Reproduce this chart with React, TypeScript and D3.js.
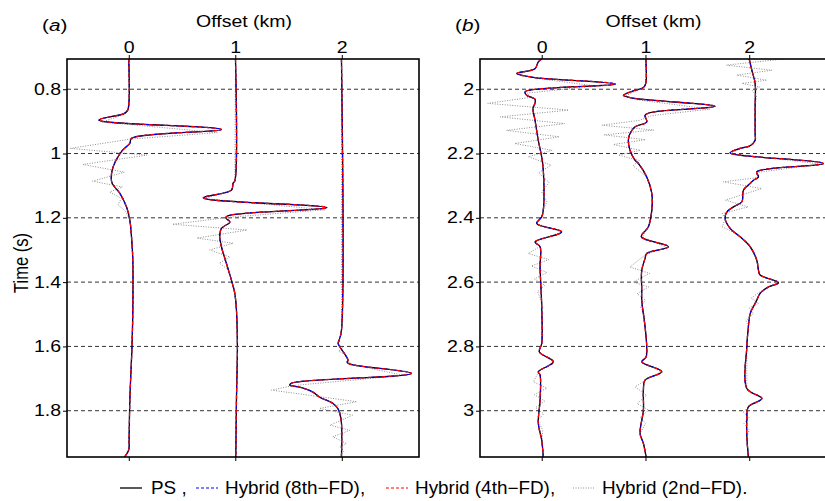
import React, { useEffect, useRef } from "react";
import * as d3 from "d3";

// each trace point: [time (s), deflection from its offset (km units)]
type Pt = [number, number];

const offsets = [0, 1, 2];
const timeTicksA = [0.8, 1, 1.2, 1.4, 1.6, 1.8];
const timeTicksB = [2, 2.2, 2.4, 2.6, 2.8, 3];
const timeRangeA: [number, number] = [0.706, 1.944];
const timeRangeB: [number, number] = [1.906, 3.144];
const offsetRangeA: [number, number] = [-0.58, 2.725];
const offsetRangeB: [number, number] = [-0.595, 2.74];
const legendLabels = ["PS ,", "Hybrid (8th\u2212FD),", "Hybrid (4th\u2212FD),", "Hybrid (2nd\u2212FD)."];

// panel (a), PS reference
const psA0: Pt[] = [[0.706, 0], [0.834, 0.003], [0.865, -0.01], [0.875, -0.04], [0.896, -0.28], [0.925, 0.87], [0.953, 0.025], [0.968, 0.01], [0.99, -0.06], [1.015, -0.11], [1.036, -0.14], [1.058, -0.16], [1.089, -0.16], [1.105, -0.13], [1.123, -0.085], [1.167, -0.02], [1.207, 0.01], [1.27, 0.028], [1.332, 0.038], [1.487, 0.038], [1.601, 0.03], [1.767, 0.01], [1.891, 0.003], [1.922, 0], [1.944, -0.04]];
const psA1: Pt[] = [[0.706, 0.002], [1.085, -0.004], [1.092, -0.02], [1.114, -0.036], [1.138, -0.3], [1.168, 0.86], [1.192, -0.05], [1.2, -0.09], [1.213, -0.05], [1.233, -0.13], [1.259, -0.146], [1.29, -0.13], [1.342, -0.083], [1.394, -0.036], [1.434, -0.005], [1.487, 0.011], [1.601, 0.02], [1.767, 0.011], [1.944, 0.005]];
const psA2: Pt[] = [[0.706, -0.003], [1.55, -0.003], [1.581, -0.025], [1.59, -0.035], [1.601, -0.019], [1.625, 0.03], [1.643, 0.059], [1.649, 0.05], [1.655, 0.075], [1.684, 0.654], [1.714, -0.47], [1.72, -0.488], [1.727, -0.394], [1.742, -0.272], [1.758, -0.207], [1.777, -0.085], [1.793, -0.038], [1.808, -0.019], [1.839, -0.003], [1.944, -0.003]];

// panel (a), 2nd-order FD hybrid (dispersive)
const fd2A0: Pt[] = [[0.706, 0], [0.834, 0.003], [0.865, -0.01], [0.878, -0.04], [0.902, -0.25], [0.935, 0.83], [0.955, 0.02], [0.984, -0.55], [1.005, 0.17], [1.034, -0.43], [1.058, -0.04], [1.086, -0.34], [1.104, -0.06], [1.12, -0.18], [1.139, -0.07], [1.16, -0.1], [1.18, -0.03], [1.207, 0.01], [1.27, 0.028], [1.332, 0.038], [1.487, 0.038], [1.601, 0.03], [1.767, 0.01], [1.891, 0.003], [1.922, 0], [1.944, -0.04]];
const fd2A1: Pt[] = [[0.706, 0.002], [1.085, -0.004], [1.092, -0.02], [1.114, -0.036], [1.14, -0.29], [1.175, 0.84], [1.198, -0.05], [1.22, -0.59], [1.238, 0.11], [1.263, -0.36], [1.279, -0.02], [1.3, -0.24], [1.322, -0.05], [1.341, -0.15], [1.36, -0.07], [1.394, -0.036], [1.434, -0.005], [1.487, 0.011], [1.601, 0.02], [1.767, 0.011], [1.944, 0.005]];
const fd2A2: Pt[] = [[0.706, -0.003], [1.55, -0.003], [1.581, -0.025], [1.592, -0.03], [1.605, 0.01], [1.615, -0.03], [1.625, 0.04], [1.643, 0.06], [1.655, 0.075], [1.69, 0.58], [1.722, -0.46], [1.736, -0.66], [1.772, 0.14], [1.793, -0.21], [1.814, 0.1], [1.845, -0.11], [1.861, 0.075], [1.881, -0.085], [1.902, 0.044], [1.912, -0.02], [1.925, 0.02], [1.935, -0.01], [1.944, -0.003]];

// panel (b), PS reference
const psB0: Pt[] = [[1.906, 0], [1.915, -0.033], [1.936, -0.065], [1.951, -0.24], [1.963, -0.084], [1.984, 0.71], [2.008, -0.16], [2.019, -0.145], [2.031, -0.065], [2.044, -0.065], [2.059, -0.084], [2.096, -0.065], [2.159, -0.033], [2.211, 0], [2.252, 0.015], [2.314, 0.022], [2.376, 0.015], [2.397, 0], [2.418, -0.048], [2.444, 0.193], [2.475, -0.065], [2.49, -0.016], [2.553, -0.016], [2.677, 0], [2.791, 0], [2.817, -0.023], [2.848, 0.112], [2.879, -0.033], [2.889, -0.016], [2.967, -0.016], [3.039, -0.033], [3.092, 0], [3.144, 0.015]];
const psB1: Pt[] = [[1.906, 0.003], [1.982, 0.003], [1.995, -0.02], [2.005, -0.117], [2.019, -0.213], [2.028, -0.12], [2.053, 0.671], [2.071, 0.076], [2.081, -0.004], [2.102, 0.012], [2.117, -0.1], [2.138, -0.149], [2.159, -0.165], [2.19, -0.149], [2.221, -0.1], [2.231, -0.068], [2.273, 0.012], [2.324, 0.061], [2.376, 0.061], [2.428, 0.028], [2.459, -0.04], [2.49, 0.221], [2.511, 0.012], [2.527, -0.004], [2.563, -0.036], [2.625, -0.036], [2.656, -0.036], [2.739, -0.004], [2.801, 0.012], [2.833, 0.006], [2.848, -0.036], [2.879, 0.157], [2.905, -0.004], [2.936, -0.02], [2.998, -0.02], [3.071, -0.052], [3.102, -0.02], [3.144, 0.006]];
const psB2: Pt[] = [[1.906, 0], [1.941, 0.025], [1.982, 0.057], [2.055, 0.057], [2.138, 0.057], [2.159, 0.057], [2.176, 0.009], [2.184, -0.088], [2.198, -0.184], [2.231, 0.716], [2.257, 0.073], [2.273, 0.089], [2.283, 0.041], [2.293, 0.009], [2.314, -0.056], [2.35, -0.071], [2.366, -0.152], [2.382, -0.216], [2.402, -0.232], [2.433, -0.184], [2.459, -0.088], [2.49, 0.009], [2.532, 0.073], [2.563, 0.089], [2.578, 0.105], [2.602, 0.282], [2.615, 0.185], [2.635, 0.105], [2.656, 0.073], [2.666, 0.057], [2.698, 0.009], [2.739, -0.008], [2.801, -0.023], [2.931, -0.023], [2.962, 0.122], [2.988, -0.008], [3.029, -0.023], [3.081, -0.023], [3.144, -0.008]];

// panel (b), 2nd-order FD hybrid
const fd2B0: Pt[] = [[1.906, 0], [1.915, -0.033], [1.936, -0.065], [1.953, -0.22], [1.966, -0.06], [1.99, 0.52], [2.012, -0.14], [2.025, -0.1], [2.044, -0.52], [2.065, 0.26], [2.086, -0.4], [2.107, 0.22], [2.128, -0.34], [2.148, 0.17], [2.169, -0.26], [2.19, 0.1], [2.21, -0.13], [2.236, 0.09], [2.26, -0.03], [2.29, 0.07], [2.32, 0], [2.35, 0.05], [2.376, 0.015], [2.397, 0], [2.418, -0.048], [2.444, 0.19], [2.475, -0.06], [2.49, -0.02], [2.511, -0.13], [2.53, 0.07], [2.55, -0.1], [2.57, 0.05], [2.59, -0.07], [2.61, 0.03], [2.63, -0.04], [2.66, 0], [2.791, 0], [2.817, -0.023], [2.848, 0.11], [2.879, -0.03], [2.91, -0.08], [2.93, 0.05], [2.95, -0.07], [2.97, 0.03], [2.99, -0.06], [3.01, 0.02], [3.03, -0.04], [3.06, 0.01], [3.092, 0], [3.144, 0.015]];
const fd2B1: Pt[] = [[1.906, 0.003], [1.982, 0.003], [1.995, -0.02], [2.008, -0.11], [2.022, -0.2], [2.032, -0.1], [2.062, 0.62], [2.082, 0.06], [2.097, -0.06], [2.112, -0.42], [2.127, 0.08], [2.142, -0.4], [2.157, 0], [2.172, -0.31], [2.19, -0.05], [2.205, -0.26], [2.222, -0.06], [2.238, -0.12], [2.273, 0.012], [2.324, 0.061], [2.376, 0.061], [2.428, 0.028], [2.459, -0.03], [2.492, 0.2], [2.515, 0], [2.535, -0.08], [2.553, -0.15], [2.573, 0.04], [2.6, -0.12], [2.615, 0.03], [2.636, -0.08], [2.656, 0], [2.677, -0.05], [2.7, -0.01], [2.739, -0.004], [2.801, 0.012], [2.833, 0.006], [2.848, -0.036], [2.879, 0.15], [2.905, 0], [2.926, -0.1], [2.952, 0.01], [2.978, -0.08], [2.998, 0.03], [3.02, -0.05], [3.04, 0], [3.071, -0.052], [3.102, -0.02], [3.144, 0.006]];
const fd2B2: Pt[] = [[1.906, 0.33], [1.925, -0.22], [1.941, 0.22], [1.956, -0.12], [1.972, 0.17], [1.982, -0.07], [1.993, 0.1], [2.005, 0.03], [2.02, 0.07], [2.055, 0.057], [2.159, 0.057], [2.176, 0.009], [2.186, -0.09], [2.2, -0.18], [2.233, 0.7], [2.259, 0.07], [2.275, 0.08], [2.288, -0.25], [2.309, 0.12], [2.345, -0.23], [2.366, -0.01], [2.387, -0.26], [2.402, -0.232], [2.428, -0.26], [2.44, -0.184], [2.459, -0.088], [2.49, 0.009], [2.532, 0.073], [2.563, 0.089], [2.578, 0.105], [2.602, 0.28], [2.615, 0.185], [2.635, 0.08], [2.65, 0.02], [2.666, 0.09], [2.68, 0], [2.698, 0.04], [2.72, -0.03], [2.739, -0.008], [2.801, -0.023], [2.931, -0.023], [2.962, 0.12], [2.988, -0.008], [3.005, -0.06], [3.02, 0], [3.04, -0.05], [3.06, 0], [3.081, -0.023], [3.144, -0.008]];

// the 8th- and 4th-order hybrids overlie PS at this scale
const psA = [psA0, psA1, psA2];
const psB = [psB0, psB1, psB2];
const hyb8A = psA;
const hyb4A = psA;
const hyb8B = psB;
const hyb4B = psB;
const fd2A = [fd2A0, fd2A1, fd2A2];
const fd2B = [fd2B0, fd2B1, fd2B2];

const FONT = "'Liberation Sans', Arial, Helvetica, sans-serif";
const FS = 16; // axis text size
const SX = 1.22; // the source figure's text is stretched sideways

const styles = {
  ps: { stroke: "#000", width: 1.3, dash: null as string | null },
  h8: { stroke: "#0000ff", width: 1.1, dash: "3,2" },
  h4: { stroke: "#ff0000", width: 1.2, dash: "4,3" },
  fd2: { stroke: "#8f8f8f", width: 1, dash: "1,1.5" },
};

type Sel = d3.Selection<any, unknown, null, undefined>;

function stretchedText(parent: Sel, x: number, y: number, txt: string, anchor = "start", size = FS, sx = SX) {
  return parent
    .append("text")
    .attr("transform", `translate(${x},${y}) scale(${sx},1)`)
    .attr("text-anchor", anchor)
    .style("font-size", size + "px")
    .style("font-family", FONT)
    .attr("fill", "#000")
    .text(txt);
}

interface PanelCfg {
  id: string;
  letter: string;
  left: number;
  right: number;
  xDomain: [number, number];
  yDomain: [number, number];
  ticks: number[];
  series: { key: keyof typeof styles; traces: Pt[][] }[];
}

function drawPanel(svg: Sel, cfg: PanelCfg) {
  const top = 59;
  const bottom = 457;
  const x = d3.scaleLinear().domain(cfg.xDomain).range([cfg.left, cfg.right]);
  const y = d3.scaleLinear().domain(cfg.yDomain).range([top, bottom]);

  svg
    .append("clipPath")
    .attr("id", "clip-" + cfg.id)
    .append("rect")
    .attr("x", cfg.left)
    .attr("y", top)
    .attr("width", cfg.right - cfg.left)
    .attr("height", bottom - top);

  const g = svg.append("g");

  // dashed time grid
  g.selectAll("line.grid")
    .data(cfg.ticks)
    .join("line")
    .attr("class", "grid")
    .attr("x1", cfg.left)
    .attr("x2", cfg.right)
    .attr("y1", (d) => y(d))
    .attr("y2", (d) => y(d))
    .attr("stroke", "#333")
    .attr("stroke-width", 1)
    .attr("stroke-dasharray", "4,3");

  const traces = g.append("g").attr("clip-path", `url(#clip-${cfg.id})`);

  cfg.series.forEach((s) => {
    const st = styles[s.key];
    s.traces.forEach((pts, i) => {
      const off = offsets[i];
      const line = d3
        .line<Pt>()
        .x((d) => x(off + d[1]))
        .y((d) => y(d[0]))
        .curve(s.key === "fd2" ? d3.curveLinear : d3.curveCatmullRom.alpha(0.5));
      traces
        .append("path")
        .attr("d", line(pts))
        .attr("fill", "none")
        .attr("stroke", st.stroke)
        .attr("stroke-width", st.width)
        .attr("stroke-dasharray", st.dash);
    });
  });

  const axTop = g
    .append("g")
    .attr("transform", `translate(0,${top})`)
    .call(d3.axisTop(x).tickValues(offsets).tickSize(4).tickPadding(2).tickFormat((d) => String(d)));
  const axBot = g
    .append("g")
    .attr("transform", `translate(0,${bottom})`)
    .call(d3.axisBottom(x).tickValues(offsets).tickSize(4).tickFormat(() => ""));
  const axLeft = g
    .append("g")
    .attr("transform", `translate(${cfg.left},0)`)
    .call(d3.axisLeft(y).tickValues(cfg.ticks).tickSize(4).tickPadding(2).tickFormat((d) => String(d)));

  [axTop, axBot, axLeft].forEach((a) => {
    a.select(".domain").remove();
    a.selectAll("line").attr("stroke", "#000");
    a.selectAll("text")
      .style("font-size", FS + "px")
      .style("font-family", FONT)
      .attr("fill", "#000")
      .attr("transform", `scale(${SX},1)`);
  });
  axLeft.selectAll("text").attr("x", -6 / SX);

  g.append("rect")
    .attr("x", cfg.left)
    .attr("y", top)
    .attr("width", cfg.right - cfg.left)
    .attr("height", bottom - top)
    .attr("fill", "none")
    .attr("stroke", "#000")
    .attr("stroke-width", 1.6);

  stretchedText(g, (cfg.left + Math.min(cfg.right, 825)) / 2 + 1, 27, "Offset (km)", "middle");

  const lab = stretchedText(g, cfg.left - 25, 31, "", "start", 17);
  lab.append("tspan").text("(");
  lab.append("tspan").style("font-style", "italic").text(cfg.letter);
  lab.append("tspan").text(")");
}

export default function App() {
  const ref = useRef<SVGSVGElement>(null);

  useEffect(() => {
    const svg = d3.select(ref.current as SVGSVGElement) as Sel;
    svg.selectAll("*").remove();

    svg.append("rect").attr("width", 825).attr("height", 501).attr("fill", "#fff");

    const series = (ps: Pt[][], h8: Pt[][], h4: Pt[][], fd2: Pt[][]) => [
      { key: "fd2" as const, traces: fd2 },
      { key: "ps" as const, traces: ps },
      { key: "h8" as const, traces: h8 },
      { key: "h4" as const, traces: h4 },
    ];

    drawPanel(svg, {
      id: "a",
      letter: "a",
      left: 67,
      right: 419,
      xDomain: offsetRangeA,
      yDomain: timeRangeA,
      ticks: timeTicksA,
      series: series(psA, hyb8A, hyb4A, fd2A),
    });
    drawPanel(svg, {
      id: "b",
      letter: "b",
      left: 480,
      right: 826,
      xDomain: offsetRangeB,
      yDomain: timeRangeB,
      ticks: timeTicksB,
      series: series(psB, hyb8B, hyb4B, fd2B),
    });

    svg
      .append("text")
      .attr("transform", `translate(28,263) rotate(-90) scale(1,${SX})`)
      .attr("text-anchor", "middle")
      .style("font-size", "16.5px")
      .style("font-family", FONT)
      .text("Time (s)");

    // legend
    const keys: (keyof typeof styles)[] = ["ps", "h8", "h4", "fd2"];
    const lineX = [120, 196, 386, 573];
    const legend = svg.append("g");
    keys.forEach((k, i) => {
      const st = styles[k];
      legend
        .append("line")
        .attr("x1", lineX[i])
        .attr("x2", lineX[i] + 22)
        .attr("y1", 488)
        .attr("y2", 488)
        .attr("stroke", st.stroke)
        .attr("stroke-width", k === "ps" ? 1.3 : 1)
        .attr("stroke-dasharray", k === "h8" || k === "h4" ? "3,2" : st.dash);
      stretchedText(legend, lineX[i] + (i === 0 ? 31 : 29), 494, legendLabels[i], "start", 17.5, 1.08);
    });
  }, []);

  return (
    <svg
      ref={ref}
      width={825}
      height={501}
      style={{ position: "absolute", left: 0, top: 0 }}
    />
  );
}
